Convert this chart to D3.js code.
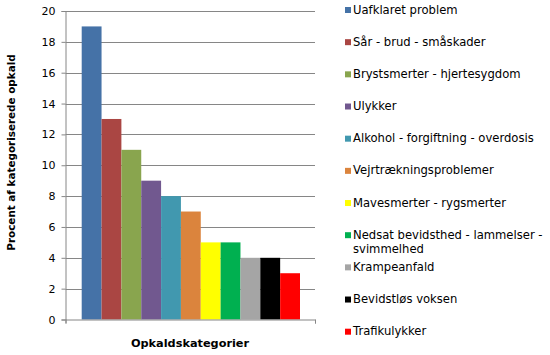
<!DOCTYPE html>
<html>
<head>
<meta charset="utf-8">
<script src="https://cdn.jsdelivr.net/npm/d3@7"></script>
<style>
  html, body { margin: 0; padding: 0; background: #fff; }
  svg { display: block; }
  text { font-family: "DejaVu Sans", Verdana, sans-serif; }
</style>
</head>
<body>
<svg id="chart" width="550" height="355"></svg>
<script>
const categories = [
  "Uafklaret problem",
  "Sår - brud - småskader",
  "Brystsmerter - hjertesygdom",
  "Ulykker",
  "Alkohol - forgiftning - overdosis",
  "Vejrtrækningsproblemer",
  "Mavesmerter - rygsmerter",
  "Nedsat bevidsthed - lammelser - svimmelhed",
  "Krampeanfald",
  "Bevidstløs voksen",
  "Trafikulykker"
];
const values = [19, 13, 11, 9, 8, 7, 5, 5, 4, 4, 3];
const colors = ["#4572A7", "#AA4643", "#89A54E", "#71588F", "#4198AF", "#DB843D",
                "#FFFF00", "#00B050", "#A5A5A5", "#000000", "#FF0000"];
const legendLines = [
  ["Uafklaret problem"],
  ["Sår - brud - småskader"],
  ["Brystsmerter - hjertesygdom"],
  ["Ulykker"],
  ["Alkohol - forgiftning - overdosis"],
  ["Vejrtrækningsproblemer"],
  ["Mavesmerter - rygsmerter"],
  ["Nedsat bevidsthed - lammelser -", "svimmelhed"],
  ["Krampeanfald"],
  ["Bevidstløs voksen"],
  ["Trafikulykker"]
];
const yTicks = [0, 2, 4, 6, 8, 10, 12, 14, 16, 18, 20];
const yTitle = "Procent af kategoriserede opkald";
const xTitle = "Opkaldskategorier";

const svg = d3.select("#chart");
const plotL = 65.5, plotR = 315, plotT = 11, plotB = 319.5;
const axisColor = "#868686";

const y = d3.scaleLinear().domain([0, 20]).range([plotB, plotT]);
const x = d3.scaleBand().domain(categories).range([81.7, 300]).padding(0);

// gridlines
svg.append("g").selectAll("line").data(yTicks.filter(d => d > 0)).join("line")
  .attr("x1", plotL).attr("x2", plotR)
  .attr("y1", d => Math.round(y(d)) + 0.5).attr("y2", d => Math.round(y(d)) + 0.5)
  .attr("stroke", axisColor).attr("stroke-width", 1);

// bars
svg.append("g").selectAll("rect").data(categories).join("rect")
  .attr("x", d => x(d))
  .attr("width", x.bandwidth())
  .attr("y", (d, i) => y(values[i]))
  .attr("height", (d, i) => plotB - y(values[i]))
  .attr("fill", (d, i) => colors[i]);

// y axis
const yAxis = d3.axisLeft(y).tickValues(yTicks).tickSize(4).tickPadding(6).tickFormat(d3.format("d"));
const gy = svg.append("g").attr("transform", `translate(${plotL},0)`).call(yAxis);
gy.select(".domain").attr("stroke", axisColor);
gy.selectAll(".tick line").attr("stroke", axisColor);
gy.selectAll(".tick text").attr("font-size", 11).attr("fill", "#000")
  .attr("font-family", "DejaVu Sans, Verdana, sans-serif");

// x axis
const xAxisScale = d3.scaleLinear().domain([0, 1]).range([plotL, plotR]);
const gx = svg.append("g").attr("transform", `translate(0,${plotB})`)
  .call(d3.axisBottom(xAxisScale).tickValues([0, 1]).tickSize(4).tickFormat(""));
gx.select(".domain").attr("stroke", axisColor);
gx.selectAll(".tick line").attr("stroke", axisColor);

// axis titles
svg.append("text")
  .attr("transform", `translate(14.5,152.5) rotate(-90)`)
  .attr("text-anchor", "middle")
  .attr("font-size", 10.4).attr("font-weight", "bold")
  .text(yTitle);
svg.append("text")
  .attr("x", 190).attr("y", 347)
  .attr("text-anchor", "middle")
  .attr("font-size", 11.3).attr("font-weight", "bold")
  .text(xTitle);

// legend
const leg = svg.append("g");
const rows = leg.selectAll("g").data(legendLines).join("g")
  .attr("transform", (d, i) => `translate(345,${10 + i * 32.17})`);
rows.append("rect").attr("x", 0).attr("y", -3).attr("width", 6).attr("height", 6)
  .attr("fill", (d, i) => colors[i]);
rows.append("text")
  .attr("x", 8).attr("y", 3.5)
  .attr("font-size", 11.6).attr("fill", "#000")
  .selectAll("tspan").data(d => d).join("tspan")
  .attr("x", 8).attr("dy", (d, j) => j === 0 ? 0 : 14.5)
  .text(d => d);
</script>
</body>
</html>
